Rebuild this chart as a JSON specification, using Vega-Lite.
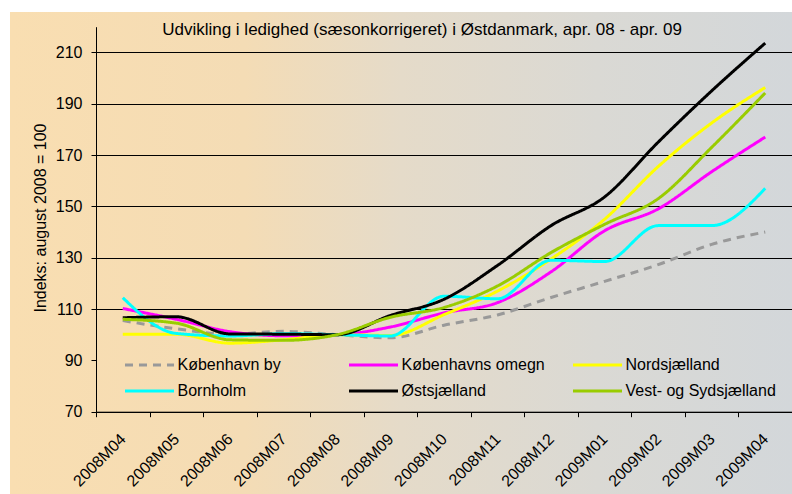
{
  "$schema": "https://vega.github.io/schema/vega-lite/v6.json",
  "width": 782,
  "height": 482,
  "autosize": {"type": "none"},
  "padding": {"left": 10, "top": 12, "right": 0, "bottom": 0},
  "background": "white",
  "title": {
    "text": "Udvikling i ledighed (sæsonkorrigeret) i Østdanmark, apr. 08 - apr. 09",
    "anchor": "middle", "frame": "group", "orient": "top", "offset": -40, "baseline": "alphabetic",
    "dx": 21, "fontSize": 17, "fontWeight": "normal", "font": "Liberation Sans", "color": "#000000"
  },
  "config": {
    "font": "Liberation Sans",
    "view": {
      "stroke": null,
      "fill": {
        "gradient": "linear", "x1": 0, "y1": 0, "x2": 1, "y2": 0,
        "stops": [
          {"offset": 0, "color": "#F9DEB1"},
          {"offset": 0.3, "color": "#F4DCB5"},
          {"offset": 0.5, "color": "#E5DBC9"},
          {"offset": 0.75, "color": "#DAD9D4"},
          {"offset": 1, "color": "#D3D7DA"}
        ]
      }
    }
  },
  "data": {
    "values": [
      {"month": "2008M04", "region": "København by", "value": 105.5},
      {"month": "2008M05", "region": "København by", "value": 102.3},
      {"month": "2008M06", "region": "København by", "value": 100.2},
      {"month": "2008M07", "region": "København by", "value": 101.3},
      {"month": "2008M08", "region": "København by", "value": 100},
      {"month": "2008M09", "region": "København by", "value": 98.8},
      {"month": "2008M10", "region": "København by", "value": 103.7},
      {"month": "2008M11", "region": "København by", "value": 107.7},
      {"month": "2008M12", "region": "København by", "value": 114.5},
      {"month": "2009M01", "region": "København by", "value": 120.8},
      {"month": "2009M02", "region": "København by", "value": 127.3},
      {"month": "2009M03", "region": "København by", "value": 135.2},
      {"month": "2009M04", "region": "København by", "value": 140},
      {"month": "2008M04", "region": "Københavns omegn", "value": 110.2},
      {"month": "2008M05", "region": "Københavns omegn", "value": 106},
      {"month": "2008M06", "region": "Københavns omegn", "value": 101.2},
      {"month": "2008M07", "region": "Københavns omegn", "value": 99.6},
      {"month": "2008M08", "region": "Københavns omegn", "value": 100},
      {"month": "2008M09", "region": "Københavns omegn", "value": 103},
      {"month": "2008M10", "region": "Københavns omegn", "value": 108.5},
      {"month": "2008M11", "region": "Københavns omegn", "value": 112.5},
      {"month": "2008M12", "region": "Københavns omegn", "value": 124.5},
      {"month": "2009M01", "region": "Københavns omegn", "value": 140.5},
      {"month": "2009M02", "region": "Københavns omegn", "value": 149},
      {"month": "2009M03", "region": "Københavns omegn", "value": 163.5},
      {"month": "2009M04", "region": "Københavns omegn", "value": 177},
      {"month": "2008M04", "region": "Nordsjælland", "value": 100.2},
      {"month": "2008M05", "region": "Nordsjælland", "value": 100.2},
      {"month": "2008M06", "region": "Nordsjælland", "value": 96.7},
      {"month": "2008M07", "region": "Nordsjælland", "value": 98},
      {"month": "2008M08", "region": "Nordsjælland", "value": 100},
      {"month": "2008M09", "region": "Nordsjælland", "value": 99.7},
      {"month": "2008M10", "region": "Nordsjælland", "value": 107.8},
      {"month": "2008M11", "region": "Nordsjælland", "value": 117},
      {"month": "2008M12", "region": "Nordsjælland", "value": 129.5},
      {"month": "2009M01", "region": "Nordsjælland", "value": 145},
      {"month": "2009M02", "region": "Nordsjælland", "value": 165.5},
      {"month": "2009M03", "region": "Nordsjælland", "value": 182.5},
      {"month": "2009M04", "region": "Nordsjælland", "value": 196.3},
      {"month": "2008M04", "region": "Bornholm", "value": 114.4},
      {"month": "2008M05", "region": "Bornholm", "value": 100.5},
      {"month": "2008M06", "region": "Bornholm", "value": 99.5},
      {"month": "2008M07", "region": "Bornholm", "value": 100.4},
      {"month": "2008M08", "region": "Bornholm", "value": 100},
      {"month": "2008M09", "region": "Bornholm", "value": 99.5},
      {"month": "2008M10", "region": "Bornholm", "value": 115},
      {"month": "2008M11", "region": "Bornholm", "value": 114},
      {"month": "2008M12", "region": "Bornholm", "value": 129},
      {"month": "2009M01", "region": "Bornholm", "value": 128.5},
      {"month": "2009M02", "region": "Bornholm", "value": 142.5},
      {"month": "2009M03", "region": "Bornholm", "value": 142.5},
      {"month": "2009M04", "region": "Bornholm", "value": 157},
      {"month": "2008M04", "region": "Østsjælland", "value": 106.6},
      {"month": "2008M05", "region": "Østsjælland", "value": 107},
      {"month": "2008M06", "region": "Østsjælland", "value": 100.3},
      {"month": "2008M07", "region": "Østsjælland", "value": 100.2},
      {"month": "2008M08", "region": "Østsjælland", "value": 100},
      {"month": "2008M09", "region": "Østsjælland", "value": 107.5},
      {"month": "2008M10", "region": "Østsjælland", "value": 113.8},
      {"month": "2008M11", "region": "Østsjælland", "value": 127},
      {"month": "2008M12", "region": "Østsjælland", "value": 142.5},
      {"month": "2009M01", "region": "Østsjælland", "value": 153.7},
      {"month": "2009M02", "region": "Østsjælland", "value": 175},
      {"month": "2009M03", "region": "Østsjælland", "value": 195},
      {"month": "2009M04", "region": "Østsjælland", "value": 213.6},
      {"month": "2008M04", "region": "Vest- og Sydsjælland", "value": 106},
      {"month": "2008M05", "region": "Vest- og Sydsjælland", "value": 104.5},
      {"month": "2008M06", "region": "Vest- og Sydsjælland", "value": 98},
      {"month": "2008M07", "region": "Vest- og Sydsjælland", "value": 97.8},
      {"month": "2008M08", "region": "Vest- og Sydsjælland", "value": 100},
      {"month": "2008M09", "region": "Vest- og Sydsjælland", "value": 106.8},
      {"month": "2008M10", "region": "Vest- og Sydsjælland", "value": 110.6},
      {"month": "2008M11", "region": "Vest- og Sydsjælland", "value": 119},
      {"month": "2008M12", "region": "Vest- og Sydsjælland", "value": 132},
      {"month": "2009M01", "region": "Vest- og Sydsjælland", "value": 143},
      {"month": "2009M02", "region": "Vest- og Sydsjælland", "value": 153},
      {"month": "2009M03", "region": "Vest- og Sydsjælland", "value": 173},
      {"month": "2009M04", "region": "Vest- og Sydsjælland", "value": 194.2}
    ]
  },
  "mark": {"type": "line", "interpolate": "monotone", "strokeWidth": 3},
  "encoding": {
    "x": {
      "field": "month", "type": "ordinal", "bandPosition": 0.5,
      "scale": {"type": "band", "range": [86, 782], "paddingInner": 0, "paddingOuter": 0},
      "axis": {
        "orient": "bottom", "offset": -82.3, "tickBand": "extent", "title": null, "grid": false,
        "labelAngle": -45, "labelAlign": "right", "labelBaseline": "middle", "labelPadding": 19.5,
        "labelFontSize": 16, "labelColor": "#000000", "labelFont": "Liberation Sans",
        "domainColor": "#000000", "domainWidth": 1, "tickColor": "#000000", "tickSize": 5, "tickWidth": 1
      }
    },
    "y": {
      "field": "value", "type": "quantitative",
      "scale": {"domain": [70, 220], "range": [399.7, 14.7], "nice": false, "zero": false},
      "axis": {
        "orient": "left", "offset": -86, "values": [70, 90, 110, 130, 150, 170, 190, 210],
        "grid": true, "gridColor": "#000000", "gridWidth": 1,
        "gridOpacity": {"condition": {"test": "datum.value === 90", "value": 0}, "value": 1},
        "domainColor": "#000000", "domainWidth": 1, "tickColor": "#000000", "tickSize": 5, "tickWidth": 1,
        "labelFontSize": 16, "labelColor": "#000000", "labelPadding": 9, "labelFont": "Liberation Sans",
        "title": "Indeks: august 2008 = 100", "titleFontSize": 16, "titleFontWeight": "normal",
        "titleColor": "#000000", "titleFont": "Liberation Sans",
        "titleX": -56, "titleY": 205.5, "titleAngle": -90, "titleBaseline": "middle", "titleAlign": "center"
      }
    },
    "color": {
      "field": "region", "type": "nominal",
      "scale": {
        "domain": ["København by", "Københavns omegn", "Nordsjælland", "Bornholm", "Østsjælland", "Vest- og Sydsjælland"],
        "range": ["#999999", "#FF00FF", "#FFFF00", "#00FFFF", "#000000", "#99CC00"]
      },
      "legend": {
        "orient": "none", "legendX": 115, "legendY": 343, "columns": 3, "direction": "horizontal", "title": null,
        "symbolType": "M-3,0H3", "symbolSize": 267, "symbolStrokeWidth": 3, "symbolOffset": 14.5,
        "labelFontSize": 16, "labelColor": "#000000", "labelFont": "Liberation Sans", "labelOffset": 18,
        "gridAlign": "all", "columnPadding": 14, "rowPadding": 8, "labelLimit": 300
      }
    },
    "strokeDash": {
      "field": "region", "type": "nominal",
      "scale": {
        "domain": ["København by", "Københavns omegn", "Nordsjælland", "Bornholm", "Østsjælland", "Vest- og Sydsjælland"],
        "range": [[8, 6], [1, 0], [1, 0], [1, 0], [1, 0], [1, 0]]
      }
    }
  }
}
